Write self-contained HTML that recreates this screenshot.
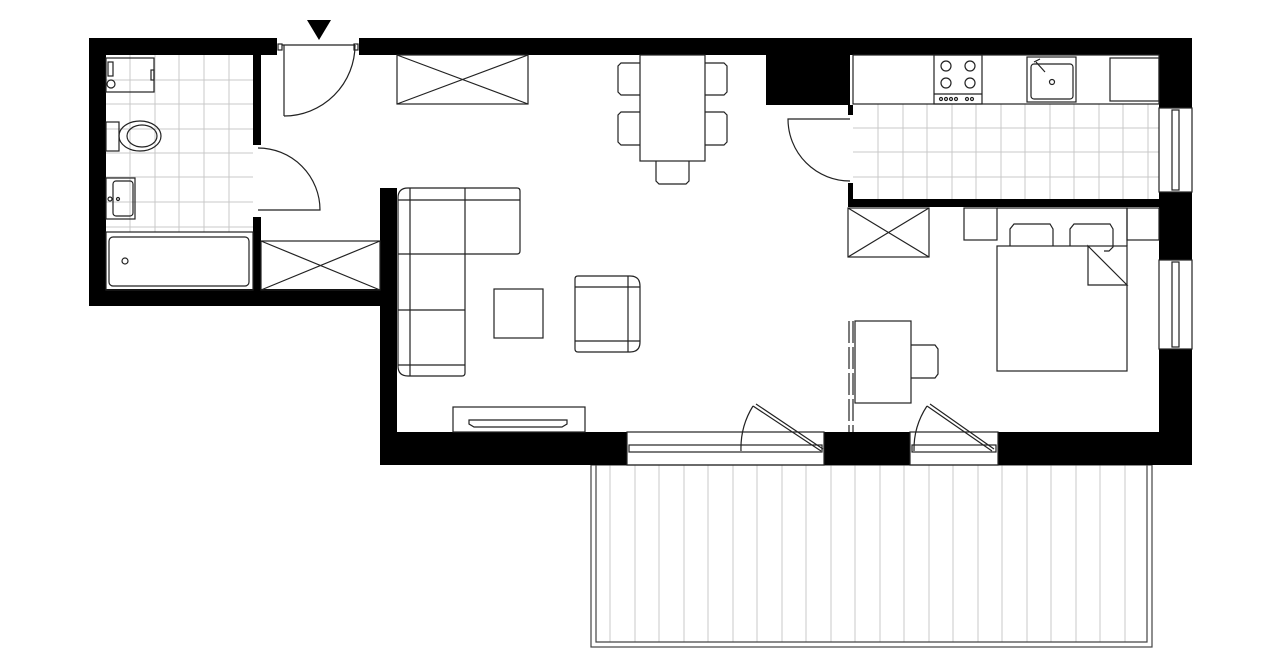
<!DOCTYPE html>
<html><head><meta charset="utf-8"><style>html,body{margin:0;padding:0;background:#fff}svg{display:block}</style></head>
<body>
<svg width="1280" height="667" viewBox="0 0 1280 667" xmlns="http://www.w3.org/2000/svg">
<rect width="1280" height="667" fill="#fff"/>
<!-- tiles -->
<g stroke="#c8c8c8" stroke-width="1">
<path d="M130 55V232M155 55V232M179 55V232M204 55V232M229 55V232M106 80H253M106 104H253M106 129H253M106 153H253M106 177H253M106 202H253M106 227H253"/>
<path d="M878 104V202M903 104V202M927 104V202M952 104V202M976 104V202M1001 104V202M1025 104V202M1050 104V202M1074 104V202M1099 104V202M1123 104V202M1148 104V202M853 128H1159M853 152H1159M853 177H1159"/>
<path d="M610 465V642M635 465V642M659 465V642M684 465V642M708 465V642M733 465V642M757 465V642M782 465V642M806 465V642M831 465V642M855 465V642M880 465V642M904 465V642M929 465V642M953 465V642M978 465V642M1002 465V642M1027 465V642M1051 465V642M1076 465V642M1100 465V642M1125 465V642"/>
</g>
<!-- balcony outline -->
<g fill="none" stroke="#444" stroke-width="1.2">
<rect x="591" y="465" width="561" height="182"/>
<path d="M596 465V642H1147V465"/>
</g>
<!-- walls -->
<g fill="#000">
<rect x="89" y="38" width="188" height="17"/>
<rect x="359" y="38" width="833" height="17"/>
<rect x="89" y="38" width="17" height="268"/>
<rect x="89" y="289" width="308" height="17"/>
<rect x="380" y="188" width="17" height="277"/>
<rect x="253" y="55" width="8" height="90"/>
<rect x="253" y="217" width="8" height="73"/>
<rect x="380" y="432" width="247" height="33"/>
<rect x="824" y="432" width="86" height="33"/>
<rect x="998" y="432" width="194" height="33"/>
<rect x="1159" y="38" width="33" height="70"/>
<rect x="1159" y="192" width="33" height="68"/>
<rect x="1159" y="349" width="33" height="116"/>
<rect x="766" y="55" width="84" height="50"/>
<rect x="848" y="105" width="5" height="10"/>
<rect x="848" y="183" width="5" height="24"/>
<rect x="848" y="199" width="311" height="8"/>
<polygon points="307,20 331,20 319,40"/>
</g>
<g fill="none" stroke="#222" stroke-width="1.2">
<!-- windows -->
<rect x="1159" y="108" width="33" height="84"/><rect x="1172" y="110" width="7" height="80"/>
<rect x="1159" y="260" width="33" height="89"/><rect x="1172" y="262" width="7" height="85"/>
<rect x="627" y="432" width="197" height="33"/><rect x="629" y="445" width="193" height="7"/>
<rect x="910" y="432" width="88" height="33"/><rect x="912" y="445" width="84" height="7"/>
<!-- balcony doors -->
<path d="M753 406L821 451M756 404L823 449M741 451A80 80 0 0 1 753 406"/>
<path d="M927 406L992 451M930 404L994 449M914 451A78 78 0 0 1 927 406"/>
<!-- entry door -->
<rect x="278" y="44" width="4" height="6"/><rect x="354" y="44" width="4" height="6"/>
<path d="M282 45H355M284 45V116M284 116A71 71 0 0 0 355 45"/>
<!-- bath door -->
<path d="M258 148A62 62 0 0 1 320 210H258"/>
<!-- kitchen door -->
<path d="M850 119H788A62 62 0 0 0 850 181"/>
<!-- bathroom fixtures -->
<rect x="106" y="58" width="48" height="34"/><rect x="108" y="62" width="5" height="14"/><circle cx="111" cy="84" r="4"/><rect x="151" y="70" width="3" height="10"/>
<rect x="106" y="122" width="13" height="29"/><ellipse cx="140" cy="136" rx="21" ry="15"/><ellipse cx="142" cy="136" rx="15" ry="11"/>
<rect x="106" y="178" width="29" height="41"/><rect x="113" y="181" width="20" height="35" rx="3"/><circle cx="110" cy="199" r="2"/><circle cx="118" cy="199" r="1.5"/>
<rect x="106" y="232" width="147" height="58"/><rect x="109" y="237" width="140" height="49" rx="4"/><circle cx="125" cy="261" r="3"/>
<!-- closets -->
<rect x="261" y="241" width="119" height="49"/><path d="M261 241L380 290M380 241L261 290"/>
<rect x="397" y="55" width="131" height="49"/><path d="M397 55L528 104M528 55L397 104"/>
<rect x="848" y="208" width="81" height="49"/><path d="M848 208L929 257M929 208L848 257"/>
<!-- dining -->
<rect x="640" y="55" width="65" height="106"/>
<path d="M640 63H621L618 66V92L621 95H640M640 112H621L618 115V142L621 145H640M705 63H724L727 66V92L724 95H705M705 112H724L727 115V142L724 145H705M656 161V181L659 184H686L689 181V161"/>
<!-- sofa -->
<path d="M408 188H517Q520 188 520 191V251Q520 254 517 254H465V373Q465 376 462 376H408Q398 376 398 366V198Q398 188 408 188Z"/>
<path d="M410 188V376M465 188V254M398 200H520M398 254H465M398 310H465M398 365H465"/>
<rect x="494" y="289" width="49" height="49"/>
<!-- armchair -->
<path d="M578 276H630Q640 276 640 286V342Q640 352 630 352H578Q575 352 575 349V279Q575 276 578 276Z"/>
<path d="M575 287H640M575 341H640M628 276V352"/>
<!-- tv -->
<rect x="453" y="407" width="132" height="25"/><path d="M469 420H567V424L562 427H474L469 424Z"/>
<!-- kitchen -->
<rect x="853" y="55" width="306" height="49"/>
<rect x="934" y="55" width="48" height="49"/><path d="M934 94H982"/>
<circle cx="946" cy="66" r="5"/><circle cx="970" cy="66" r="5"/><circle cx="946" cy="83" r="5"/><circle cx="970" cy="83" r="5"/>
<circle cx="941" cy="99" r="1.5"/><circle cx="946" cy="99" r="1.5"/><circle cx="951" cy="99" r="1.5"/><circle cx="956" cy="99" r="1.5"/><circle cx="967" cy="99" r="1.5"/><circle cx="972" cy="99" r="1.5"/>
<rect x="1027" y="57" width="49" height="45"/><rect x="1031" y="64" width="42" height="35" rx="3"/><circle cx="1052" cy="82" r="2.5"/><path d="M1036 62L1045 72M1034 62L1040 59"/>
<rect x="1110" y="58" width="49" height="43"/>
<!-- bedroom -->
<rect x="964" y="208" width="33" height="32"/><rect x="1127" y="208" width="32" height="32"/>
<rect x="997" y="246" width="130" height="125"/>
<path d="M1010 246V229L1014 224H1050L1053 229V246M1070 246V229L1074 224H1110L1113 229V247L1109 251H1104"/>
<path d="M1088 246L1127 285H1088Z"/>
<path d="M997 208H1127V246"/>
<rect x="855" y="321" width="56" height="82"/>
<path d="M911 345H935L938 349V374L935 378H911"/>
<path d="M849 321V432M853 321V432" stroke-dasharray="22 4"/>
</g>
</svg>
</body></html>
